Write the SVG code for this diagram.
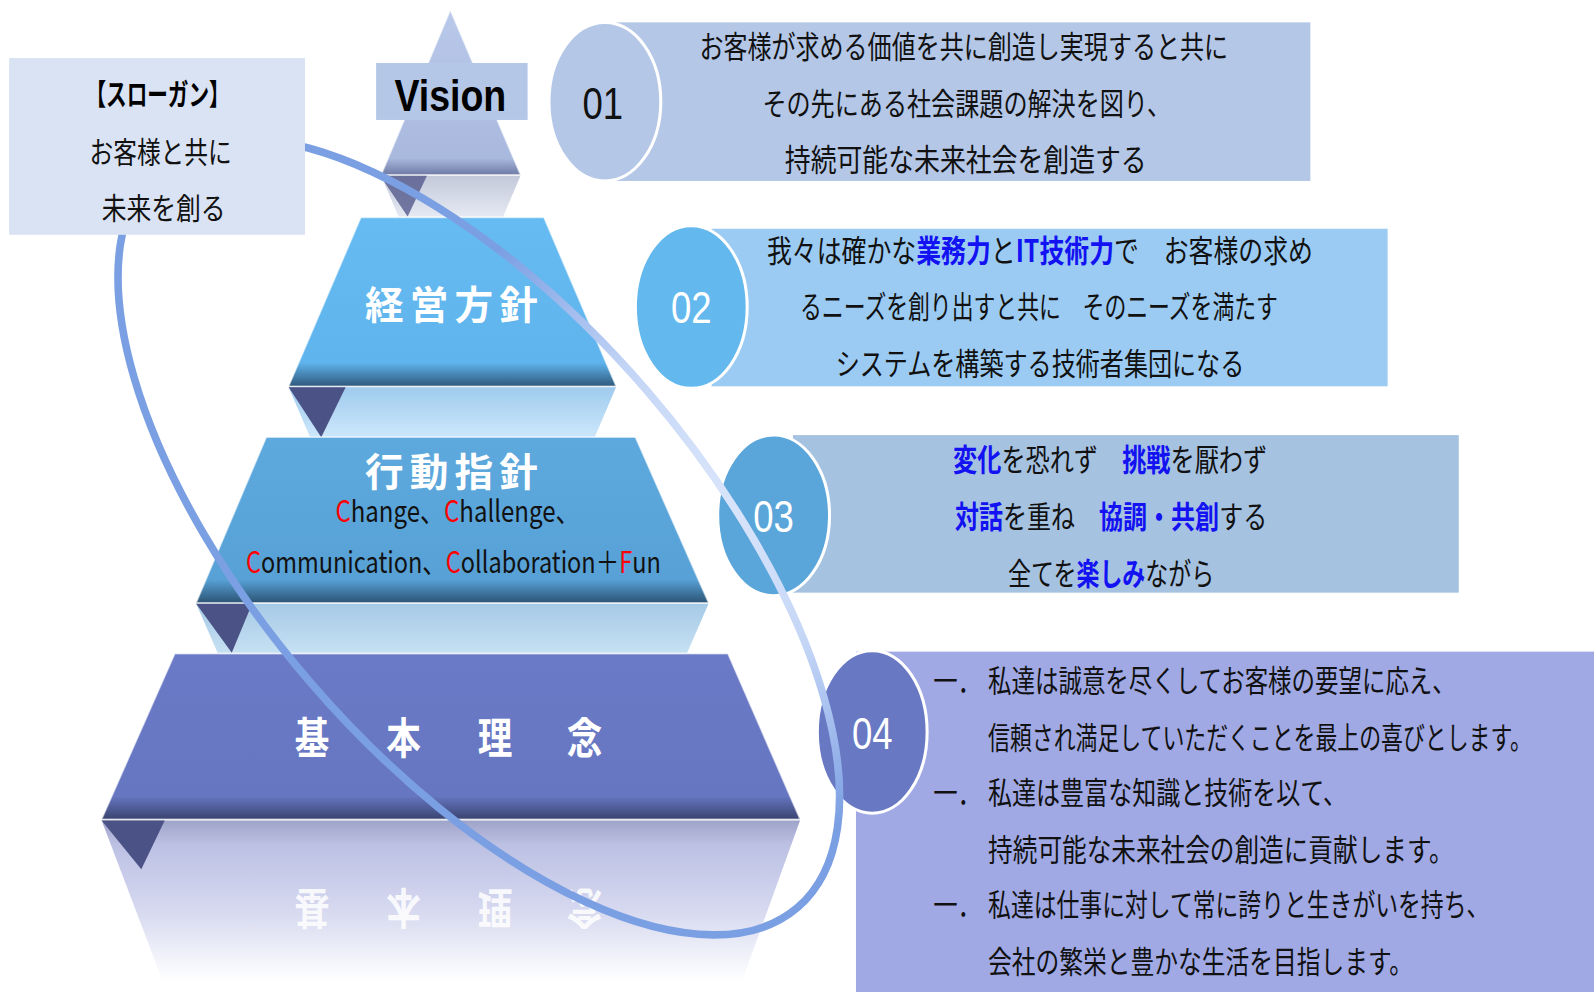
<svg xmlns="http://www.w3.org/2000/svg" width="1594" height="992" viewBox="0 0 1594 992">
<defs>
<linearGradient id="gV" x1="0" y1="0" x2="0" y2="1"><stop offset="0" stop-color="#B9C9EA"/><stop offset="0.9" stop-color="#A9B8DD"/><stop offset="1" stop-color="#6E7BA6"/></linearGradient>
<linearGradient id="g2" x1="0" y1="0" x2="0" y2="1"><stop offset="0" stop-color="#66BBF2"/><stop offset="0.86" stop-color="#5FB4ED"/><stop offset="1" stop-color="#2F587B"/></linearGradient>
<linearGradient id="g3" x1="0" y1="0" x2="0" y2="1"><stop offset="0" stop-color="#5DA9DD"/><stop offset="0.86" stop-color="#57A1D6"/><stop offset="1" stop-color="#2C5474"/></linearGradient>
<linearGradient id="g4" x1="0" y1="0" x2="0" y2="1"><stop offset="0" stop-color="#6A7AC6"/><stop offset="0.86" stop-color="#6676C1"/><stop offset="1" stop-color="#39436F"/></linearGradient>
<linearGradient id="rV" x1="0" y1="0" x2="0" y2="1"><stop offset="0" stop-color="#C3C9D9"/><stop offset="1" stop-color="#E4E9F3"/></linearGradient>
<linearGradient id="r2" x1="0" y1="0" x2="0" y2="1"><stop offset="0" stop-color="#9FCBEE"/><stop offset="1" stop-color="#CDE7FB"/></linearGradient>
<linearGradient id="r3" x1="0" y1="0" x2="0" y2="1"><stop offset="0" stop-color="#A6CAE6"/><stop offset="1" stop-color="#C6E0F3"/></linearGradient>
<linearGradient id="r4" x1="0" y1="0" x2="0" y2="1"><stop offset="0" stop-color="#9EA3C8"/><stop offset="0.15" stop-color="#BCC1E4"/><stop offset="0.55" stop-color="#D5D8EF"/><stop offset="1" stop-color="#FFFFFF"/></linearGradient>
<radialGradient id="ringG" gradientUnits="userSpaceOnUse" cx="600" cy="350" r="330"><stop offset="0" stop-color="#DCE7FB"/><stop offset="0.5" stop-color="#C3D5F6"/><stop offset="1" stop-color="#7B9FE3"/></radialGradient>
</defs>
<style>
.jp{font-family:"Noto Sans CJK JP","Noto Sans",sans-serif;}
.t{font-size:30px;fill:#111111;}
.hl{font-weight:700;fill:#1212F2;}
.num{font-family:"Liberation Sans","Noto Sans",sans-serif;font-size:44px;text-anchor:middle;}
.ttl{font-family:"Noto Sans CJK JP",sans-serif;font-weight:700;fill:#FFFFFF;}
.k{font-family:"Noto Sans CJK JP",sans-serif;font-weight:700;fill:#FFFFFF;font-size:42px;text-anchor:middle;}
.red{fill:#FF0000;}
.dark{fill:#4B5286;}
.tier{stroke:#FFFFFF;stroke-opacity:0.55;stroke-width:1.5;}
.circ{stroke:#FFFFFF;stroke-width:3;}
</style>
<rect width="1594" height="992" fill="#FFFFFF"/>
<g transform="scale(1.01658)">

<g id="vision">
<polygon class="tier" points="443,10 512,172 375,172" fill="url(#gV)"/>
<polygon points="375,173 512,173 495,213 392,213" fill="url(#rV)"/>
<polygon class="dark" points="374,173 420,173 401,213" fill-opacity="0.75"/>
<rect x="370" y="62" width="149" height="56" fill="#B4C7E7"/>
<text x="443" y="109" text-anchor="middle" font-family="Liberation Sans, sans-serif" font-weight="700" font-size="44" textLength="110" lengthAdjust="spacingAndGlyphs" fill="#000">Vision</text>
</g>

<g id="tier-keiei">
<polygon class="tier" points="355,214 535,214 606,380 284,380" fill="url(#g2)"/>
<polygon points="284,381 606,381 585,430 305,430" fill="url(#r2)"/>
<polygon class="dark" points="284,381 340,381 316,430"/>
<text class="ttl" x="359 403 447 491" y="314" font-size="38">経営方針</text>
</g>

<g id="tier-kodo">
<polygon class="tier" points="262,430 625,430 697,593 193,593" fill="url(#g3)"/>
<polygon points="193,594 697,594 676,642 214,642" fill="url(#r3)"/>
<polygon class="dark" points="193,594 248,594 228,642"/>
<text class="ttl" x="359 403 447 491" y="478" font-size="38">行動指針</text>
<text class="jp" x="450" y="513" text-anchor="middle" font-size="29" fill="#111" textLength="240" lengthAdjust="spacingAndGlyphs"><tspan class="red">C</tspan>hange、<tspan class="red">C</tspan>hallenge、</text>
<text class="jp" x="446" y="564" text-anchor="middle" font-size="29" fill="#111" textLength="408" lengthAdjust="spacingAndGlyphs"><tspan class="red">C</tspan>ommunication、<tspan class="red">C</tspan>ollaboration＋<tspan class="red">F</tspan>un</text>
</g>

<g id="tier-kihon">
<polygon class="tier" points="172,643 716,643 787,806 100,806" fill="url(#g4)"/>
<polygon points="100,807 787,807 730,965 160,965" fill="url(#r4)"/>
<polygon class="dark" points="100,807 162,807 139,855"/>
<text class="k" x="307" y="742" textLength="34" lengthAdjust="spacingAndGlyphs">基</text>
<text class="k" x="397" y="742" textLength="34" lengthAdjust="spacingAndGlyphs">本</text>
<text class="k" x="487" y="742" textLength="34" lengthAdjust="spacingAndGlyphs">理</text>
<text class="k" x="575" y="742" textLength="35" lengthAdjust="spacingAndGlyphs">念</text>
<g opacity="0.85" transform="translate(0,1619) scale(1,-1)">
<text class="k" x="307" y="742" textLength="34" lengthAdjust="spacingAndGlyphs">基</text>
<text class="k" x="397" y="742" textLength="34" lengthAdjust="spacingAndGlyphs">本</text>
<text class="k" x="487" y="742" textLength="34" lengthAdjust="spacingAndGlyphs">理</text>
<text class="k" x="575" y="742" textLength="35" lengthAdjust="spacingAndGlyphs">念</text>
</g>
</g>

<g id="panel-01">
<rect x="597" y="22" width="692" height="156" fill="#B4C7E7"/>
<ellipse class="circ" cx="595" cy="100" rx="55" ry="78" fill="#B4C7E7"/>
<text class="num" x="593" y="117" fill="#111" textLength="40" lengthAdjust="spacingAndGlyphs">01</text>
<text class="jp t" x="948" y="57" text-anchor="middle" textLength="520" lengthAdjust="spacingAndGlyphs">お客様が求める価値を共に創造し実現すると共に</text>
<text class="jp t" x="951" y="113" text-anchor="middle" textLength="402" lengthAdjust="spacingAndGlyphs">その先にある社会課題の解決を図り、</text>
<text class="jp t" x="950" y="168" text-anchor="middle" textLength="356" lengthAdjust="spacingAndGlyphs">持続可能な未来社会を創造する</text>
</g>

<g id="panel-02">
<rect x="700" y="225" width="665" height="155" fill="#9BCBF3"/>
<ellipse class="circ" cx="680" cy="302" rx="55" ry="80" fill="#63B8EE"/>
<text class="num" x="680" y="318" fill="#FFF" textLength="40" lengthAdjust="spacingAndGlyphs">02</text>
<text class="jp t" x="1023" y="258" text-anchor="middle" textLength="537" lengthAdjust="spacingAndGlyphs">我々は確かな<tspan class="hl">業務力</tspan>と<tspan class="hl">IT技術力</tspan>で　お客様の求め</text>
<text class="jp t" x="1022" y="313" text-anchor="middle" textLength="470" lengthAdjust="spacingAndGlyphs">るニーズを創り出すと共に　そのニーズを満たす</text>
<text class="jp t" x="1023" y="369" text-anchor="middle" textLength="402" lengthAdjust="spacingAndGlyphs">システムを構築する技術者集団になる</text>
</g>

<g id="panel-03">
<rect x="780" y="428" width="655" height="155" fill="#A6C2E1"/>
<ellipse class="circ" cx="761" cy="507" rx="55" ry="79" fill="#5AA5D9"/>
<text class="num" x="761" y="523" fill="#FFF" textLength="40" lengthAdjust="spacingAndGlyphs">03</text>
<text class="jp t" x="1092" y="463" text-anchor="middle" textLength="309" lengthAdjust="spacingAndGlyphs"><tspan class="hl">変化</tspan>を恐れず　<tspan class="hl">挑戦</tspan>を厭わず</text>
<text class="jp t" x="1093" y="519" text-anchor="middle" textLength="307" lengthAdjust="spacingAndGlyphs"><tspan class="hl">対話</tspan>を重ね　<tspan class="hl">協調・共創</tspan>する</text>
<text class="jp t" x="1093" y="575" text-anchor="middle" textLength="203" lengthAdjust="spacingAndGlyphs">全てを<tspan class="hl">楽しみ</tspan>ながら</text>
</g>

<g id="panel-04">
<rect x="842" y="641" width="730" height="340" fill="#A0A9E4"/>
<ellipse class="circ" cx="858" cy="720" rx="54" ry="80" fill="#6878C3"/>
<text class="num" x="858" y="737" fill="#FFF" textLength="40" lengthAdjust="spacingAndGlyphs">04</text>
<text class="jp t" x="918" y="681" textLength="48" lengthAdjust="spacingAndGlyphs">一．</text>
<text class="jp t" x="972" y="681" textLength="460" lengthAdjust="spacingAndGlyphs">私達は誠意を尽くしてお客様の要望に応え、</text>
<text class="jp t" x="972" y="737" textLength="535" lengthAdjust="spacingAndGlyphs">信頼され満足していただくことを最上の喜びとします。</text>
<text class="jp t" x="918" y="791" textLength="48" lengthAdjust="spacingAndGlyphs">一．</text>
<text class="jp t" x="972" y="791" textLength="353" lengthAdjust="spacingAndGlyphs">私達は豊富な知識と技術を以て、</text>
<text class="jp t" x="972" y="847" textLength="458" lengthAdjust="spacingAndGlyphs">持続可能な未来社会の創造に貢献します。</text>
<text class="jp t" x="918" y="901" textLength="48" lengthAdjust="spacingAndGlyphs">一．</text>
<text class="jp t" x="972" y="901" textLength="493" lengthAdjust="spacingAndGlyphs">私達は仕事に対して常に誇りと生きがいを持ち、</text>
<text class="jp t" x="972" y="957" textLength="418" lengthAdjust="spacingAndGlyphs">会社の繁栄と豊かな生活を目指します。</text>
</g>

<g id="orbit">
<ellipse cx="471" cy="528" rx="481" ry="219" transform="rotate(49.3 471 528)" fill="none" stroke="url(#ringG)" stroke-width="7.5"/>
</g>

<g id="slogan">
<rect x="9" y="57" width="291" height="174" fill="#DAE3F3"/>
<text class="jp" x="155" y="103" text-anchor="middle" font-size="29" font-weight="700" fill="#000" textLength="142" lengthAdjust="spacingAndGlyphs">【スローガン】</text>
<text class="jp" x="158" y="160" text-anchor="middle" font-size="29" fill="#111" textLength="140" lengthAdjust="spacingAndGlyphs">お客様と共に</text>
<text class="jp" x="161" y="215" text-anchor="middle" font-size="29" fill="#111" textLength="122" lengthAdjust="spacingAndGlyphs">未来を創る</text>
</g>

</g>
</svg>
